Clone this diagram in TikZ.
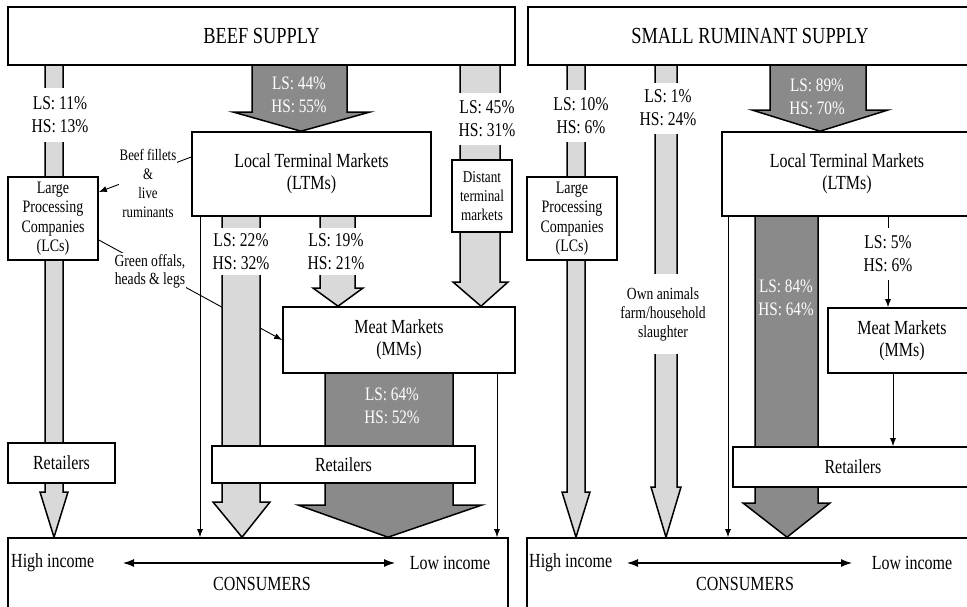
\documentclass[tikz,border=0pt]{standalone}
\usepackage{fontspec}
\setmainfont{Liberation Serif}[FakeStretch=0.8]
\usetikzlibrary{arrows.meta,calc}
\pgfdeclarelayer{bg}
\pgfsetlayers{bg,main}
\definecolor{lightg}{HTML}{D9D9D9}
\definecolor{darkg}{HTML}{8A8A8A}
% #1 style, #2 x left, #3 x right, #4 source anchor, #5 head y, #6 left wing x, #7 right wing x, #8 tip
\newcommand\blockarr[8]{\draw[#1] (#2,0 |- #4) -- (#2,#5) -- (#6,#5) -- (#8) -- (#7,#5) -- (#3,#5) -- (#3,0 |- #4);}
\begin{document}
\begin{tikzpicture}[x=1pt,y=-1pt,
  box/.style={draw, line width=1.6pt, fill=white, align=center, inner sep=2pt},
  title/.style={font=\fontsize{23}{26}\selectfont},
  big/.style={font=\fontsize{20}{22}\selectfont},
  mid/.style={font=\fontsize{17.5}{19.5}\selectfont},
  sm/.style={font=\fontsize{16.5}{19}\selectfont},
  lab/.style={fill=white, inner sep=1pt, align=center, font=\fontsize{19.5}{23}\selectfont},
  dlab/.style={text=white, align=center, inner sep=0pt, font=\fontsize{19}{23}\selectfont},
  lightarr/.style={fill=lightg, draw=black, line width=1.5pt},
  darkarr/.style={fill=darkg, draw=black, line width=1.5pt},
  thinarr/.style={draw, line width=0.9pt, -{Latex[length=8pt,width=6pt]}},
  thinline/.style={draw, line width=0.9pt},
  dbl/.style={line width=1.1pt, {Latex[length=11pt,width=8pt]}-{Latex[length=11pt,width=8pt]}}
]
\useasboundingbox (0,0) rectangle (967,606);
\clip (0,0) rectangle (967,606);

% ---------------- boxes: beef supply
\node[box,title,minimum width=507,minimum height=58] (beef) at (261.5,36) {BEEF SUPPLY};
\node[box,mid,minimum width=90,minimum height=83] (lcL) at (53,218.5) {Large\\Processing\\Companies\\(LCs)};
\node[box,big,minimum width=239,minimum height=84] (ltmL) at (311.5,174) {Local Terminal Markets\\(LTMs)};
\node[box,sm,minimum width=60,minimum height=72] (dist) at (482,196) {Distant\\terminal\\markets};
\node[box,big,minimum width=232,minimum height=66] (mmL) at (399,340) {Meat Markets\\(MMs)};
\node[box,big,minimum width=107,minimum height=40] (retL1) at (61.5,463) {Retailers};
\node[box,big,minimum width=263,minimum height=37] (retL2) at (343.5,464.5) {Retailers};
\node[box,minimum width=500,minimum height=87] (consL) at (258,581.5) {};

% ---------------- boxes: small ruminant supply
\node[box,title,minimum width=444,minimum height=58] (sr) at (750,36) {SMALL RUMINANT SUPPLY};
\node[box,mid,minimum width=90,minimum height=83] (lcR) at (572,218.5) {Large\\Processing\\Companies\\(LCs)};
\node[box,big,minimum width=250,minimum height=84] (ltmR) at (847,174) {Local Terminal Markets\\(LTMs)};
\node[box,big,minimum width=148,minimum height=65] (mmR) at (902,340.5) {Meat Markets\\(MMs)};
\node[box,big,minimum width=240,minimum height=40] (retR) at (853,467) {Retailers};
\node[box,minimum width=458,minimum height=87] (consR) at (756,581.5) {};

% ---------------- background: thin side flows and block arrows
\begin{pgfonlayer}{bg}
\draw[thinarr] ([yshift=17pt]ltmL.west) -- ([yshift=26.5pt]lcL.east);
\draw[thinarr] ([yshift=-21.5pt]lcL.east) -- (mmL.west);
\blockarr{lightarr}{45}{63}{beef.south}{492}{40}{68}{54,0 |- consL.north}
\blockarr{darkarr}{252}{347}{beef.south}{112}{233}{370}{301,0 |- ltmL.north}
\blockarr{lightarr}{460}{500}{beef.south}{282}{453}{508}{481,0 |- mmL.north}
\blockarr{lightarr}{320}{355}{ltmL.south}{288}{313}{363}{338,0 |- mmL.north}
\blockarr{lightarr}{222}{260}{ltmL.south}{502}{213}{270}{242,0 |- consL.north}
\blockarr{darkarr}{325}{453}{mmL.south}{505}{298}{482}{388,0 |- consL.north}
\blockarr{lightarr}{567}{585}{sr.south}{492}{562}{590}{576,0 |- consR.north}
\blockarr{lightarr}{655}{677}{sr.south}{487}{651}{681}{666,0 |- consR.north}
\blockarr{darkarr}{770}{866}{sr.south}{110}{752}{888}{820,0 |- ltmR.north}
\blockarr{darkarr}{755}{818}{ltmR.south}{503}{743}{830}{787,0 |- consR.north}
\end{pgfonlayer}

% ---------------- thin connectors
\draw[thinarr] (200,0 |- ltmL.south) -- (200,0 |- consL.north);
\draw[thinarr] (497,0 |- mmL.south) -- (497,0 |- consL.north);
\draw[thinarr] (728,0 |- ltmR.south) -- (728,0 |- consR.north);
\draw[thinarr] (888,0 |- ltmR.south) -- (888,0 |- mmR.north);
\draw[thinarr] (893,0 |- mmR.south) -- (893,0 |- retR.north);

% ---------------- labels on light arrows
\node[lab,minimum height=54] (l11) at (60,115) {LS: 11\%\\HS: 13\%};
\node[lab,minimum height=52] (l45) at (487,119) {LS: 45\%\\HS: 31\%};
\node[lab,minimum height=47] (l22) at (241,251.5) {LS: 22\%\\HS: 32\%};
\node[lab,minimum height=47] (l19) at (336,251.5) {LS: 19\%\\HS: 21\%};
\node[lab,minimum height=52] (l10) at (581,116) {LS: 10\%\\HS: 6\%};
\node[lab,minimum height=51] (l1) at (668,108) {LS: 1\%\\HS: 24\%};
\node[lab,font=\fontsize{17}{19}\selectfont,minimum height=80] (own) at (663,314) {Own animals\\farm/household\\slaughter};
\node[lab,minimum height=52] (l5) at (888,254) {LS: 5\%\\HS: 6\%};
\node[lab,font=\fontsize{16}{19}\selectfont] (bf) at (148,183.5) {Beef fillets\\\&\\live\\ruminants};
\node[lab,font=\fontsize{17}{18}\selectfont] (go) at (150,271) {Green offals,\\heads \& legs};

% ---------------- labels on dark arrows
\node[dlab] (l44) at (299,95) {LS: 44\%\\HS: 55\%};
\node[dlab] (l89) at (817,97) {LS: 89\%\\HS: 70\%};
\node[dlab] (l64) at (392,406) {LS: 64\%\\HS: 52\%};
\node[dlab] (l84) at (786,298) {LS: 84\%\\HS: 64\%};

% ---------------- consumers
\node[big,anchor=west,inner sep=1pt] (hiL) at (10,563) {High income};
\node[big,inner sep=1pt] (loL) at (450,563) {Low income};
\node[big] (cL) at (262,584) {CONSUMERS};
\draw[dbl] (hiL.east -| 123,0) -- (loL.west -| 395,0);
\node[big,anchor=west,inner sep=1pt] (hiR) at (528,563) {High income};
\node[big,inner sep=1pt] (loR) at (912,563) {Low income};
\node[big] (cR) at (745,584) {CONSUMERS};
\draw[dbl] (hiR.east -| 627,0) -- (loR.west -| 852,0);
\end{tikzpicture}
\end{document}
